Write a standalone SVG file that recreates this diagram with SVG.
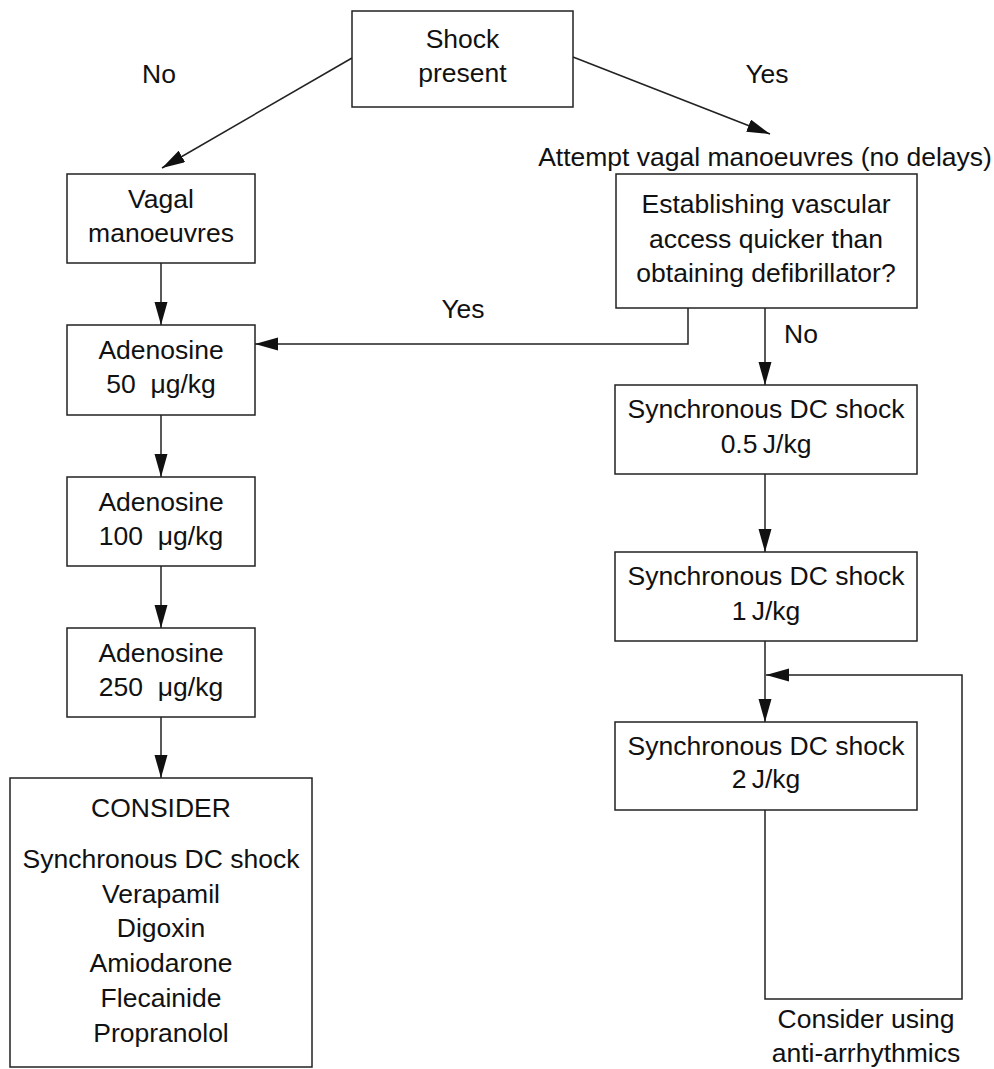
<svg xmlns="http://www.w3.org/2000/svg" width="994" height="1069" viewBox="0 0 994 1069">
  <style>
    .box { fill: #ffffff; stroke: #222222; stroke-width: 1.5; }
    .edge { fill: none; stroke: #222222; stroke-width: 1.5; }
    text { font-family: "Liberation Sans", Arial, sans-serif; font-size: 26.5px; fill: #111111; text-anchor: middle; }
  </style>
  <defs>
    <marker id="arrow" markerUnits="userSpaceOnUse" markerWidth="24" markerHeight="14" refX="23" refY="6.5" orient="auto">
      <path d="M0,0 L23,6.5 L0,13 z" fill="#111111"/>
    </marker>
  </defs>

  <rect width="994" height="1069" fill="#ffffff"/>

  <!-- connectors -->
  <g id="connectors">
    <line class="edge" x1="352" y1="58" x2="162" y2="168" marker-end="url(#arrow)"/>
    <line class="edge" x1="573" y1="57" x2="770" y2="134" marker-end="url(#arrow)"/>
    <line class="edge" x1="161" y1="263" x2="161" y2="325" marker-end="url(#arrow)"/>
    <line class="edge" x1="161" y1="415" x2="161" y2="477" marker-end="url(#arrow)"/>
    <line class="edge" x1="161" y1="566" x2="161" y2="628" marker-end="url(#arrow)"/>
    <line class="edge" x1="161" y1="717" x2="161" y2="778" marker-end="url(#arrow)"/>
    <polyline class="edge" points="688,308 688,344 255,344" marker-end="url(#arrow)"/>
    <line class="edge" x1="765" y1="308" x2="765" y2="385" marker-end="url(#arrow)"/>
    <line class="edge" x1="765" y1="474" x2="765" y2="552" marker-end="url(#arrow)"/>
    <line class="edge" x1="765" y1="641" x2="765" y2="722" marker-end="url(#arrow)"/>
    <polyline class="edge" points="765,810 765,999 962,999 962,675 766,675" marker-end="url(#arrow)"/>

    <text x="159" y="83">No</text>
    <text x="767" y="83">Yes</text>
    <text x="463" y="318">Yes</text>
    <text x="801" y="343">No</text>
    <text x="765" y="166">Attempt vagal manoeuvres (no delays)</text>
    <text x="866" y="1028">Consider using</text>
    <text x="866" y="1062">anti-arrhythmics</text>
  </g>

  <!-- nodes -->
  <g id="shock-present">
    <rect class="box" x="352" y="11" width="221" height="96"/>
    <text x="462.5" y="48">Shock</text>
    <text x="462.5" y="82">present</text>
  </g>

  <g id="vagal-manoeuvres">
    <rect class="box" x="67" y="174" width="188" height="89"/>
    <text x="161" y="208">Vagal</text>
    <text x="161" y="242">manoeuvres</text>
  </g>

  <g id="adenosine-50">
    <rect class="box" x="67" y="325" width="188" height="90"/>
    <text x="161" y="359">Adenosine</text>
    <text x="161" y="393">50&#160;&#160;μg/kg</text>
  </g>

  <g id="adenosine-100">
    <rect class="box" x="67" y="477" width="188" height="89"/>
    <text x="161" y="511">Adenosine</text>
    <text x="161" y="545">100&#160;&#160;μg/kg</text>
  </g>

  <g id="adenosine-250">
    <rect class="box" x="67" y="628" width="188" height="89"/>
    <text x="161" y="662">Adenosine</text>
    <text x="161" y="696">250&#160;&#160;μg/kg</text>
  </g>

  <g id="consider">
    <rect class="box" x="10" y="778" width="302" height="289"/>
    <text x="161" y="817">CONSIDER</text>
    <text x="161" y="868">Synchronous DC shock</text>
    <text x="161" y="903">Verapamil</text>
    <text x="161" y="937">Digoxin</text>
    <text x="161" y="972">Amiodarone</text>
    <text x="161" y="1007">Flecainide</text>
    <text x="161" y="1042">Propranolol</text>
  </g>

  <g id="vascular-access-question">
    <rect class="box" x="616" y="174" width="301" height="134"/>
    <text x="766" y="213">Establishing vascular</text>
    <text x="766" y="248">access quicker than</text>
    <text x="766" y="282">obtaining defibrillator?</text>
  </g>

  <g id="dc-shock-0-5">
    <rect class="box" x="615" y="385" width="302" height="89"/>
    <text x="766" y="418">Synchronous DC shock</text>
    <text x="766" y="453">0.5&#8201;J/kg</text>
  </g>

  <g id="dc-shock-1">
    <rect class="box" x="615" y="552" width="302" height="89"/>
    <text x="766" y="585">Synchronous DC shock</text>
    <text x="766" y="620">1&#8201;J/kg</text>
  </g>

  <g id="dc-shock-2">
    <rect class="box" x="615" y="722" width="302" height="88"/>
    <text x="766" y="755">Synchronous DC shock</text>
    <text x="766" y="788">2&#8201;J/kg</text>
  </g>
</svg>
